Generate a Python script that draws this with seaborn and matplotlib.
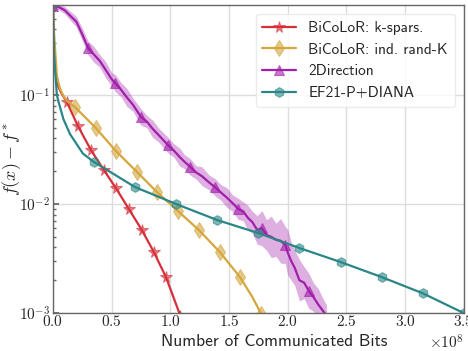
import matplotlib
matplotlib.use("Agg")
import matplotlib.pyplot as plt
import seaborn as sns
import numpy as np
from matplotlib.colors import to_rgba

# x values in units of 1e8 communicated bits
red_x = [0.0, 0.005, 0.012, 0.025, 0.045, 0.07, 0.119, 0.213, 0.324, 0.434,
         0.537, 0.647, 0.758, 0.860, 0.963, 1.085]
red_y = [0.68, 0.45, 0.25, 0.16, 0.12, 0.105, 0.0863, 0.052, 0.0313, 0.0205,
         0.014, 0.009, 0.00577, 0.00363, 0.00214, 0.00095]
red_marks = [0, 6, 7, 8, 9, 10, 11, 12, 13, 14, 15]

gold_x = [0.0, 0.008, 0.02, 0.034, 0.06, 0.085, 0.12, 0.187, 0.366, 0.537,
          0.716, 0.886, 1.065, 1.244, 1.422, 1.593, 1.70, 1.775]
gold_y = [0.68, 0.40, 0.25, 0.15, 0.115, 0.10, 0.088, 0.0776, 0.0498, 0.0306,
          0.0197, 0.0129, 0.00863, 0.00577, 0.00363, 0.00214, 0.0014, 0.00098]
gold_marks = [0, 7, 8, 9, 10, 11, 12, 13, 14, 15, 17]

purple_x = [0.00, 0.05, 0.10, 0.15, 0.20, 0.25, 0.30, 0.35, 0.40, 0.45, 0.50,
            0.53, 0.58, 0.63, 0.68, 0.75, 0.80, 0.85, 0.90, 0.98, 1.03, 1.08,
            1.12, 1.17, 1.22, 1.27, 1.33, 1.38, 1.43, 1.48, 1.53, 1.58, 1.62,
            1.66, 1.70, 1.74, 1.78, 1.82, 1.86, 1.90, 1.94, 1.98, 2.00, 2.03,
            2.06, 2.10, 2.14, 2.18, 2.22, 2.26, 2.30, 2.33]
purple_y = [0.66, 0.64, 0.60, 0.53, 0.47, 0.36, 0.27, 0.235, 0.205, 0.17, 0.14,
            0.129, 0.112, 0.095, 0.082, 0.063, 0.057, 0.049, 0.043, 0.0348,
            0.031, 0.027, 0.0245, 0.0219, 0.0195, 0.0180, 0.0158, 0.0143,
            0.0128, 0.0115, 0.0102, 0.0090, 0.0086, 0.0075, 0.0068, 0.0058,
            0.0060, 0.0052, 0.0050, 0.0047, 0.0046, 0.0042, 0.0036, 0.0030,
            0.0026, 0.0020, 0.0019, 0.0016, 0.0014, 0.0012, 0.00105, 0.00095]
purple_spread = [1.05, 1.06, 1.08, 1.10, 1.12, 1.14, 1.16, 1.18, 1.14, 1.19,
                 1.15, 1.20, 1.16, 1.21, 1.15, 1.19, 1.14, 1.20, 1.16, 1.18,
                 1.15, 1.21, 1.16, 1.19, 1.15, 1.22, 1.17, 1.20, 1.18, 1.23,
                 1.19, 1.25, 1.22, 1.30, 1.26, 1.35, 1.45, 1.38, 1.55, 1.42,
                 1.60, 1.48, 1.62, 1.50, 1.45, 1.55, 1.40, 1.45, 1.35, 1.40,
                 1.30, 1.25]
purple_marks = [0, 6, 11, 15, 19, 23, 27, 31, 36, 41, 47]

teal_x = [0.0, 0.005, 0.01, 0.017, 0.034, 0.05, 0.09, 0.145, 0.256, 0.35,
          0.70, 1.05, 1.40, 1.75, 2.10, 2.45, 2.80, 3.15, 3.50]
teal_y = [0.68, 0.40, 0.25, 0.18, 0.10, 0.085, 0.060, 0.044, 0.029, 0.0243,
          0.0143, 0.0100, 0.00713, 0.00542, 0.00395, 0.00294, 0.00214,
          0.00152, 0.00100]
teal_marks = [0, 9, 10, 11, 12, 13, 14, 15, 16, 17, 18]

series = [
    ("BiCoLoR: k-spars.", red_x, red_y, red_marks, "#d62f3a", "*", 8.5),
    ("BiCoLoR: ind. rand-K", gold_x, gold_y, gold_marks, "#d4a63c", "d", 8),
    ("2Direction", purple_x, purple_y, purple_marks, "#a21fab", "^", 6.5),
    ("EF21-P+DIANA", teal_x, teal_y, teal_marks, "#2a8686", "h", 7),
]

sns.set_theme(style="whitegrid")
plt.rcParams["font.family"] = ["cmr10", "DejaVu Sans"]
plt.rcParams["mathtext.fontset"] = "cm"
plt.rcParams["axes.formatter.use_mathtext"] = True
plt.rcParams["axes.unicode_minus"] = False

fig, ax = plt.subplots(figsize=(4.68, 3.51), dpi=100)
fig.subplots_adjust(left=0.113, right=0.991, top=0.986, bottom=0.108)

# shaded band for 2Direction
px = np.array(purple_x) * 1e8
py = np.array(purple_y)
ps = np.array(purple_spread)
ax.fill_between(px, py / ps, py * ps, color="#a21fab", alpha=0.35, lw=0)

for label, xs, ys, marks, color, marker, ms in series:
    sns.lineplot(x=np.array(xs) * 1e8, y=ys, ax=ax, color=color, lw=1.6,
                 marker=marker, markevery=marks, markersize=ms,
                 markerfacecolor=to_rgba(color, 0.6),
                 markeredgecolor=to_rgba(color, 0.6), markeredgewidth=0.8,
                 label=label, sort=False, estimator=None)

ax.set_yscale("log")
ax.set_xlim(0, 3.5e8)
ax.set_ylim(1e-3, 0.67)

ax.set_xlabel("Number of Communicated Bits", family="cmss10", fontsize=12.5)
ax.xaxis.set_label_coords(0.538, -0.068)
ax.set_ylabel("$f(x) - f^*$", fontsize=13)
ax.yaxis.set_label_coords(-0.072, 0.5)
ax.tick_params(axis="both", which="major", labelsize=11)
ax.tick_params(axis="x", which="major", pad=1, length=0)
ax.tick_params(axis="y", which="both", left=True, direction="in",
               color="0.4", pad=2)
ax.tick_params(axis="y", which="major", length=4)
ax.tick_params(axis="y", which="minor", length=2)
ax.xaxis.get_offset_text().set_fontsize(11)

ax.grid(True, which="major", color="#dddddd", lw=1)
for s in ax.spines.values():
    s.set_color("0.4")
    s.set_linewidth(1.0)

leg = ax.legend(loc="upper right", prop={"family": "cmss10", "size": 11},
                frameon=True, framealpha=0.8, edgecolor="#e6e6e6",
                borderpad=0.45, labelspacing=0.5, handlelength=2.2,
                borderaxespad=0.6)

plt.savefig("out.png", dpi=100)
